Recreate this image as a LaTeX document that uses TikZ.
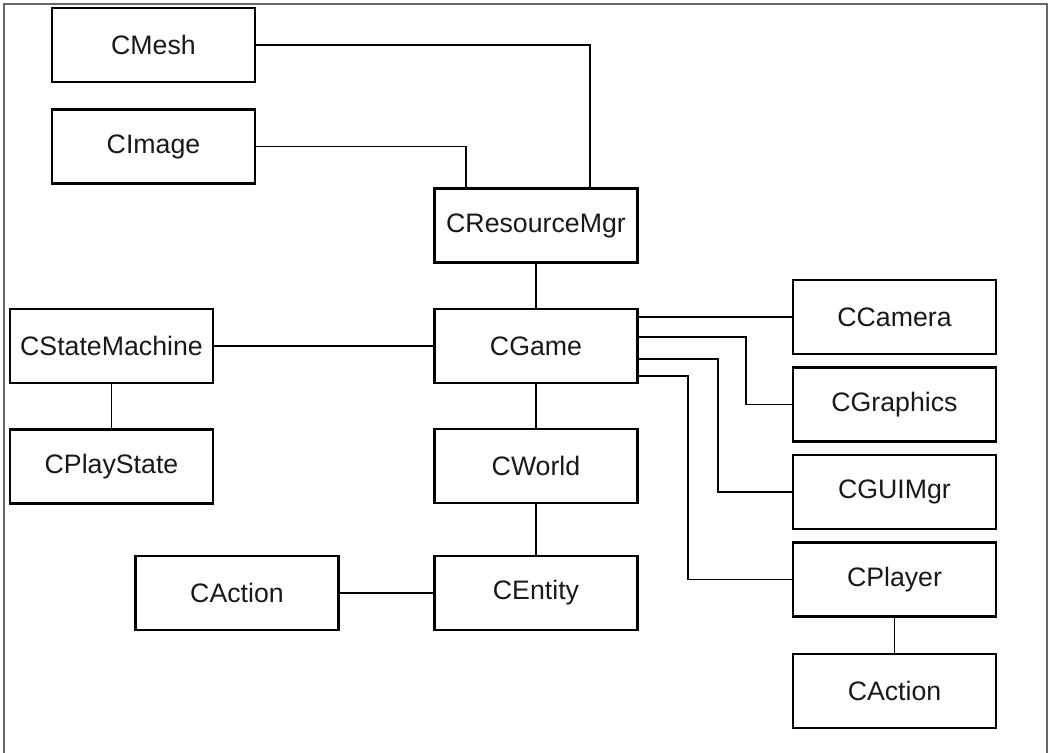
\documentclass[tikz,border=0pt]{standalone}
\usepackage{fontspec}
\setmainfont{Liberation Sans}
\usetikzlibrary{calc}

\begin{document}
\begin{tikzpicture}[
    x=0.02cm, y=-0.02cm,
    line width=1.1pt,
    every node/.style={font=\fontsize{15.2}{18}\selectfont, text=black!90},
    cls/.style={draw, line width=1.3pt, minimum width=4.06cm, minimum height=1.48cm, inner sep=0pt},
    link/.style={line width=1.1pt}
]
\useasboundingbox (0,0) rectangle (1052,753);

% Outer frame
\draw[line width=0.8pt, black!60] (4,753) -- (4,4) -- (1047,4) -- (1047,753);

% Resource classes
\node[cls] (mesh) at (153.5,45) {CMesh};
\node[cls] (image) at (153.5,146.5) {CImage};
\node[cls] (resmgr) at (536,225.5) {CResourceMgr};

% Core
\node[cls] (game) at (536,346) {CGame};
\node[cls] (world) at (536,466) {CWorld};
\node[cls] (entity) at (536,593) {CEntity};
\node[cls] (actionL) at (237,593) {CAction};

% State machine
\node[cls] (statemach) at (111.5,346) {CStateMachine};
\node[cls] (playstate) at (111.5,466.5) {CPlayState};

% Subsystems on the right
\node[cls] (camera) at (894.5,317) {CCamera};
\node[cls] (graphics) at (894.5,404.5) {CGraphics};
\node[cls] (guimgr) at (894.5,492) {CGUIMgr};
\node[cls] (player) at (894.5,579.5) {CPlayer};
\node[cls] (actionR) at (894.5,691) {CAction};

% Connectors
\draw[link] (mesh.east) -| ($(resmgr.north)+(54,0)$);
\draw[link] (image.east) -| ($(resmgr.north)+(-70,0)$);
\draw[link] (resmgr) -- (game);
\draw[link] (statemach) -- (game);
\draw[link] (statemach) -- (playstate);
\draw[link] (game) -- (world);
\draw[link] (world) -- (entity);
\draw[link] (actionL) -- (entity);
\draw[link] (player) -- (actionR);

% Fan out from CGame
\draw[link] ($(game.east)+(0,-29)$) -- (camera.west);
\draw[link] ($(game.east)+(0,-9)$) -- ++(107,0) |- (graphics.west);
\draw[link] ($(game.east)+(0,13)$) -- ++(79,0) |- (guimgr.west);
\draw[link] ($(game.east)+(0,30)$) -- ++(49,0) |- (player.west);

\end{tikzpicture}
\end{document}
